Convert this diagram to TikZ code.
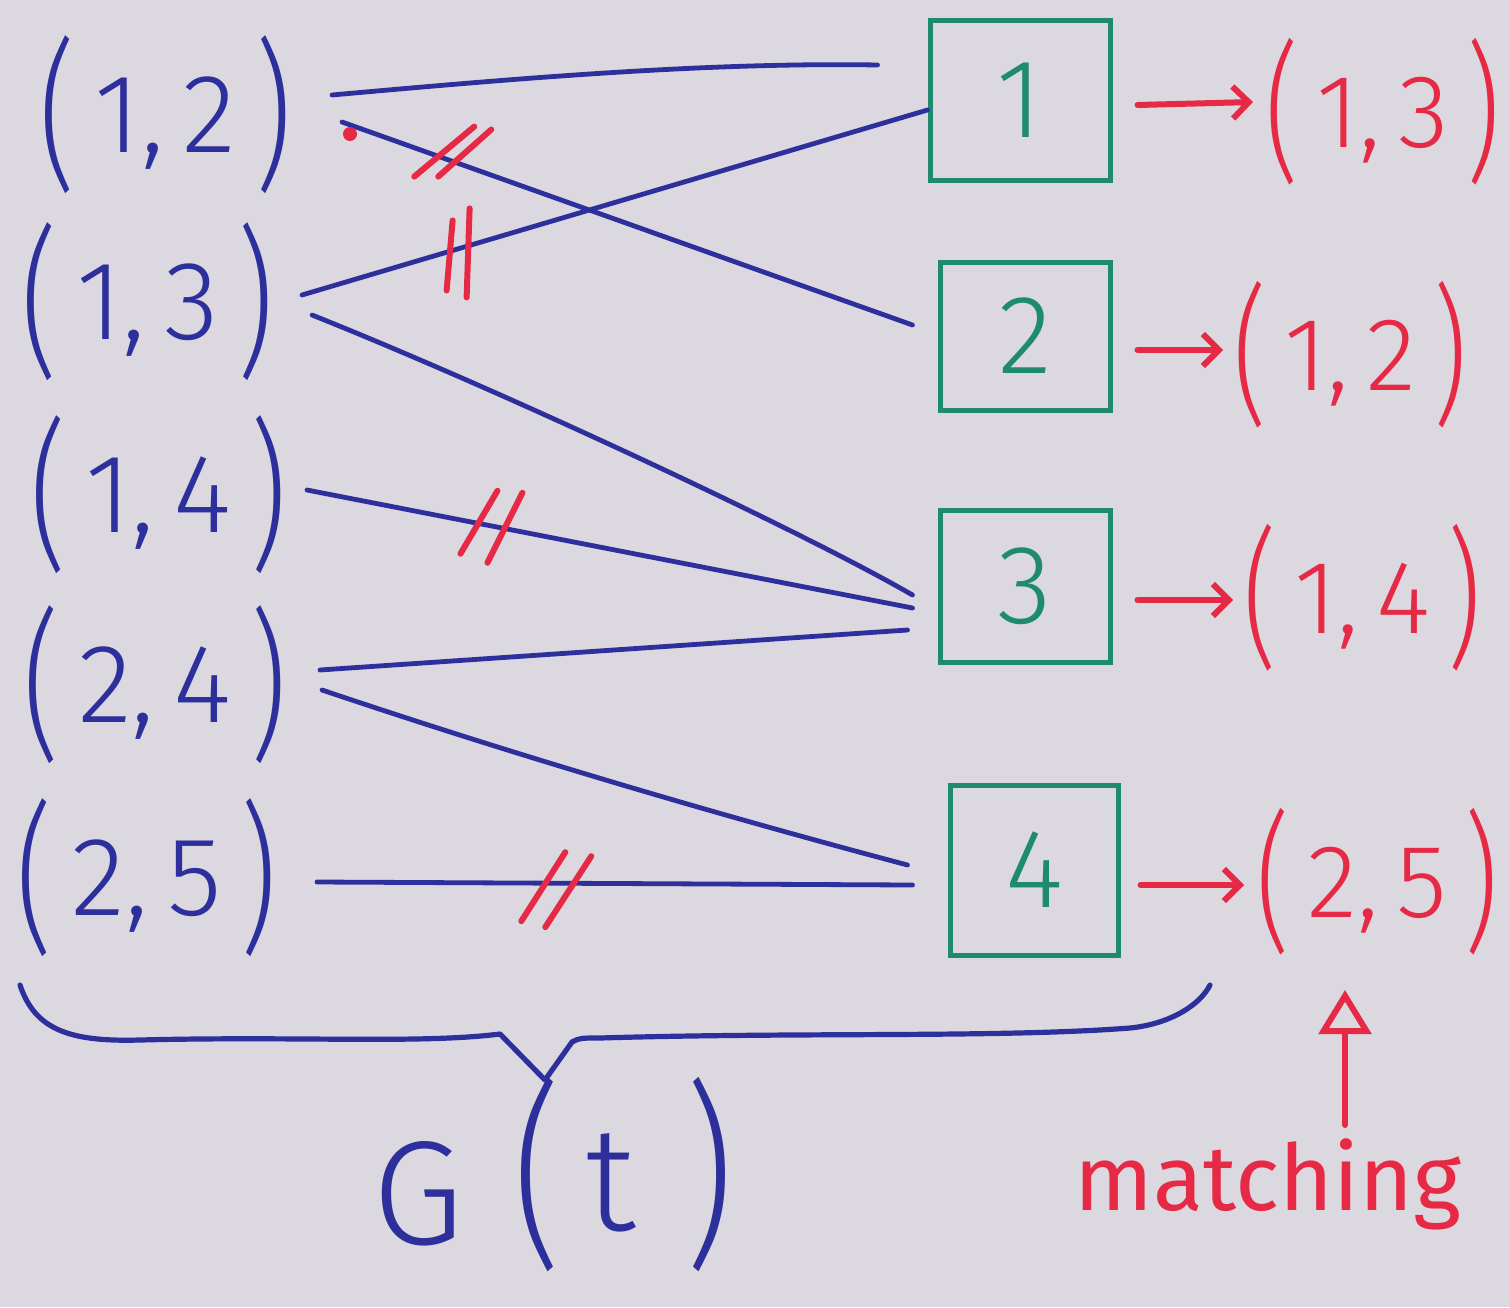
\documentclass[tikz,border=0pt]{standalone}
\usepackage{fontspec}
\usepackage{graphicx}
\setmainfont{Fira Sans}
\newfontfamily\handfont{Fira Sans Light}
\usetikzlibrary{arrows.meta}
\definecolor{bgpaper}{HTML}{DCD8DF}
\definecolor{penblue}{HTML}{2D2F9C}
\definecolor{pengreen}{HTML}{1F8B6E}
\definecolor{penred}{HTML}{E62A46}
\newcommand\lparen{\scalebox{1}[1.45]{(}}
\newcommand\rparen{\scalebox{1}[1.45]{)}}
\newcommand\pairtxt[2]{\lparen\,\raisebox{0.17em}{#1,\,#2}\,\rparen}
\begin{document}
\begin{tikzpicture}[x=0.5pt,y=-0.5pt,
  pairnode/.style={inner sep=0pt, text=penblue, font=\handfont\fontsize{56}{60}\selectfont},
  matchnode/.style={inner sep=0pt, text=penred, font=\handfont\fontsize{52}{58}\selectfont},
  slotbox/.style={draw=pengreen, line width=2.5pt, text=pengreen, inner sep=0pt,
     minimum width=85pt, minimum height=76pt, font=\handfont\fontsize{56}{60}\selectfont},
  edge/.style={draw=penblue, line width=2.4pt, line cap=round},
  cutmark/.style={draw=penred, line width=3pt, line cap=round},
  redarrow/.style={draw=penred, line width=3pt, line cap=round,
     -{Straight Barb[length=8pt,width=16pt,line width=3pt]}},
  bracestyle/.style={draw=penblue, line width=2.6pt, line cap=round, line join=round}]
\fill[bgpaper] (0,0) rectangle (1510,1307);
\useasboundingbox (0,0) rectangle (1510,1307);

% left nodes
\node[pairnode, anchor=east] (L1) at (292,115) {\pairtxt{1}{2}};
\node[pairnode, anchor=east] (L2) at (274,302) {\pairtxt{1}{3}};
\node[pairnode, anchor=east] (L3) at (287,495) {\pairtxt{1}{4}};
\node[pairnode, anchor=east] (L4) at (287,685) {\pairtxt{2}{4}};
\node[pairnode, anchor=east] (L5) at (277,878) {\pairtxt{2}{5}};

% boxes
\node[slotbox, minimum width=90pt, minimum height=80pt] (B1) at (1020,100) {1};
\node[slotbox, minimum height=74pt] (B2) at (1025,336) {2};
\node[slotbox] (B3) at (1025,586) {3};
\node[slotbox, minimum width=84pt, minimum height=85pt] (B4) at (1034,870) {4};

% matched pairs
\node[matchnode, anchor=west] (R1) at (1265,112) {\pairtxt{1}{3}};
\node[matchnode, anchor=west] (R2) at (1233,355) {\pairtxt{1}{2}};
\node[matchnode, anchor=west] (R3) at (1243,598) {\pairtxt{1}{4}};
\node[matchnode, anchor=west] (R4) at (1256,882) {\pairtxt{2}{5}};

% edges
\draw[edge] ([shift={(40,-20)}]L1.east) .. controls (500,80) and (700,62) .. ([shift={(-50,-35)}]B1.west);
\draw[edge] ([shift={(50,7)}]L1.east) -- coordinate[pos=0.195] (m2) ([shift={(-25,-11)}]B2.west);
\draw[edge] ([shift={(28,-7)}]L2.east) -- coordinate[pos=0.252] (m3) ([shift={(0,10)}]B1.west);
\draw[edge] ([shift={(38,13)}]L2.east) .. controls (500,390) and (800,530) .. ([shift={(-25,9)}]B3.west);
\draw[edge] ([shift={(20,-5)}]L3.east) -- coordinate[pos=0.303] (m5) ([shift={(-25,22)}]B3.west);
\draw[edge] ([shift={(33,-15)}]L4.east) -- ([shift={(-30,44)}]B3.west);
\draw[edge] ([shift={(35,5)}]L4.east) .. controls (500,750) and (700,810) .. ([shift={(-40,-5)}]B4.west);
\draw[edge] ([shift={(40,4)}]L5.east) -- coordinate[pos=0.38] (m8) ([shift={(-35,15)}]B4.west);

% red cut marks
\draw[cutmark] ([shift={(-39,15)}]m2) -- ([shift={(21,-35)}]m2);
\draw[cutmark] ([shift={(-15,15)}]m2) -- ([shift={(38,-32)}]m2);
\draw[cutmark] ([shift={(-7,-28)}]m3) -- ([shift={(-13,42)}]m3);
\draw[cutmark] ([shift={(10,-40)}]m3) -- ([shift={(7,49)}]m3);
\draw[cutmark] ([shift={(-30,28)}]m5) -- ([shift={(7,-35)}]m5);
\draw[cutmark] ([shift={(-3,37)}]m5) -- ([shift={(32,-33)}]m5);
\draw[cutmark] ([shift={(-22,38)}]m8) -- ([shift={(22,-31)}]m8);
\draw[cutmark] ([shift={(2,44)}]m8) -- ([shift={(48,-27)}]m8);
\fill[penred] (350,134) circle (7);

% matching arrows
\draw[redarrow] ([shift={(25,5)}]B1.east) -- ([shift={(-12,-10)}]R1.west);
\draw[redarrow] ([shift={(25,14)}]B2.east) -- ([shift={(-10,-5)}]R2.west);
\draw[redarrow] ([shift={(25,14)}]B3.east) -- ([shift={(-10,2)}]R3.west);
\draw[redarrow] ([shift={(20,15)}]B4.east) -- ([shift={(-12,3)}]R4.west);

% brace
\draw[bracestyle] (20,985) .. controls (35,1030) and (70,1042) .. (140,1040)
   .. controls (300,1036) and (420,1044) .. (500,1034)
   -- (545,1080) -- (572,1042)
   .. controls (580,1038) .. (600,1038)
   .. controls (800,1032) and (1000,1038) .. (1130,1028)
   .. controls (1170,1024) and (1200,1005) .. (1210,985);
\node[inner sep=0pt, text=penblue, font=\handfont\fontsize{74}{80}\selectfont] (G) at (553,1175)
   {G\,\,\scalebox{1}[1.35]{(}\,\raisebox{0.1em}{t}\,\,\scalebox{1}[1.35]{)}};

% matching label
\node[inner sep=0pt, anchor=base, text=penred, font=\fontsize{46}{50}\selectfont] (match) at (1268,1210) {matching};
\coordinate (mbot) at (1345,1125);
\coordinate (mtop) at (1345,990);
\draw[draw=penred, line width=3pt, line cap=round,
  -{Triangle[open, length=22pt, width=26pt, line width=3pt]}] (mbot) -- (mtop);
\end{tikzpicture}
\end{document}
